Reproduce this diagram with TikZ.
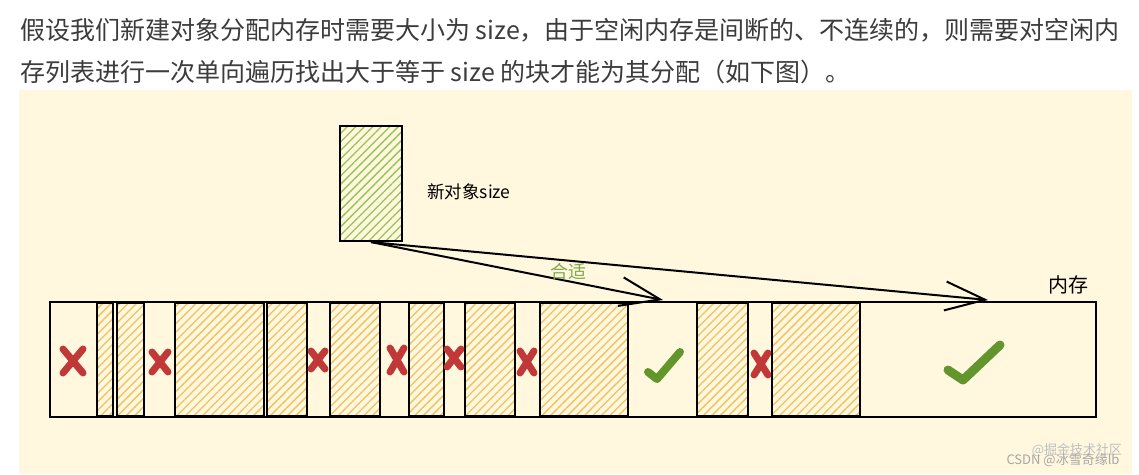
\documentclass[tikz,border=0pt]{standalone}
\usepackage{fontspec}
\newfontfamily\cjk{Noto Sans CJK SC}
\usetikzlibrary{arrows.meta,patterns.meta}
\definecolor{panelbg}{RGB}{255,248,223}
\definecolor{txtgray}{RGB}{60,60,60}
\definecolor{hatchorange}{RGB}{242,192,95}
\definecolor{hatchgreen}{RGB}{150,195,85}
\definecolor{xred}{RGB}{192,56,56}
\definecolor{okgreen}{RGB}{98,150,45}
\definecolor{labelgreen}{RGB}{125,170,75}
\tikzset{
  hatchblock/.style={draw=black, line width=2pt, line join=round,
    pattern={Lines[angle=45,distance=6pt,line width=1.3pt]}, pattern color=hatchorange},
  objbox/.style={draw=black, line width=2.2pt, inner sep=0pt,
    pattern={Lines[angle=45,distance=6pt,line width=1.3pt]}, pattern color=hatchgreen},
  barline/.style={draw=black, line width=1.9pt},
  redx/.style={draw=xred, line width=7pt, line cap=round},
  tick/.style={draw=okgreen, line width=8pt, line cap=round, line join=round},
  arrowline/.style={draw=black, line width=2pt, -{Straight Barb[length=40pt,width=29pt,line width=2pt]}},
  toptext/.style={font=\cjk\fontsize{25}{25}\selectfont, text=txtgray, anchor=base west, inner sep=0pt},
  lbl/.style={font=\cjk\fontsize{18}{18}\selectfont, text=black, inner sep=0pt},
  wmark/.style={font=\cjk\fontsize{13}{13}\selectfont, inner sep=0pt}
}
\begin{document}
\begin{tikzpicture}[x=1pt,y=-1pt]
\useasboundingbox (0,0) rectangle (1139,474);
\fill[white] (0,0) rectangle (1139,474);
% text above
\node[toptext] (line1) at (20,39.5) {假设我们新建对象分配内存时需要大小为 size，由于空闲内存是间断的、不连续的，则需要对空闲内};
\node[toptext] (line2) at (20,81.5) {存列表进行一次单向遍历找出大于等于 size 的块才能为其分配（如下图）。};
% panel
\fill[panelbg] (19,90) rectangle (1132,474);
% memory bar
\draw[barline] (50,302) rectangle (1096,417);
\foreach \a/\b in {97/113, 117/144, 175/264, 267/307, 330/380, 409/444, 465/515, 540/628, 697/748, 772/860}{
  \draw[hatchblock] (\a,303) rectangle (\b,416);
}
% red crosses
\foreach \cx/\cy/\hx/\hy in {73/361/10/12, 160/362/8/10, 318/360/7/9, 397/360/7/12, 454/358/7/9, 527/362/7/11, 761/364/7/11}{
  \draw[redx] (\cx-\hx,\cy-\hy) -- (\cx+\hx,\cy+\hy) (\cx-\hx,\cy+\hy) -- (\cx+\hx,\cy-\hy);
}
% green ticks
\draw[tick] (648,372) -- (657,379) -- (680,352);
\draw[tick, line width=9pt] (948,370) -- (963,380) -- (1000,345);
% new object
\node[objbox, minimum width=62pt, minimum height=115pt] (obj) at (371,183.5) {};
\node[lbl, font=\cjk\fontsize{17.5}{17.5}\selectfont] (objlbl) at (469,192) {新对象size};
% targets
\coordinate (fit1) at (663,300);
\coordinate (fit2) at (988,300);
\draw[arrowline] (obj.south) -- (fit2);
\draw[arrowline] (obj.south) -- (fit1);
\node[lbl, text=labelgreen] (fitlbl) at (568,272) {合适};
\node[lbl, font=\cjk\fontsize{20}{20}\selectfont] (memlbl) at (1068,285) {内存};
% watermarks (overlapping as in the source)
\node[wmark, text=black!25] (wm1) at (1077,450) {@掘金技术社区};
\node[wmark, text=black!35] (wm2) at (1063,460) {CSDN @冰雪奇缘lb};
\end{tikzpicture}
\end{document}
